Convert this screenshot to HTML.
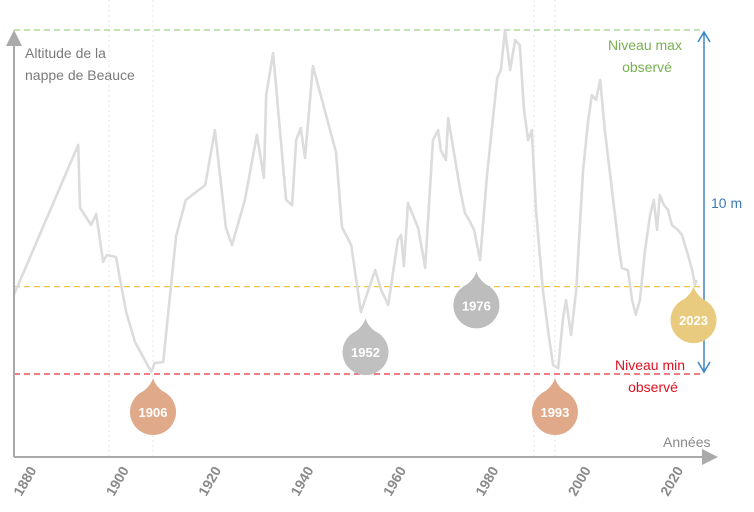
<!DOCTYPE html>
<html><head><meta charset="utf-8"><style>
body{margin:0;background:#fff}
svg{display:block;font-family:"Liberation Sans",sans-serif}
</style></head><body>
<svg id="chart" width="754" height="512" viewBox="0 0 754 512">
<defs>
<marker id="ah" markerWidth="10" markerHeight="10" refX="5" refY="5" orient="auto"><path d="M0,1 L8,5 L0,9 z" fill="#aaa"/></marker>
</defs>
<g id="grid"></g>
<g id="lines"></g>
<path id="series" fill="none" stroke="#dcdcdc" stroke-width="2.6" stroke-linejoin="round"/>
<g id="axes"></g>
<g id="markers"></g>
</svg>
<script>
const years=[1875.9,1889.8,1890.2,1892.6,1893.7,1895.2,1896,1898,1898.9,1900.2,1902.1,1905.6,1906.4,1908.2,1911,1913.1,1917.3,1919.4,1921.8,1923.1,1925.9,1928.5,1930,1930.5,1932,1934.8,1936.1,1937,1938,1938.9,1940.6,1945.6,1946.9,1948.9,1951,1954.1,1955.4,1956.9,1959,1959.7,1960.3,1961.2,1963.4,1964.7,1964.9,1966.6,1967.7,1968.3,1969.4,1969.9,1972.5,1973.5,1974.4,1975.5,1976.8,1978.3,1980.5,1981.3,1982.2,1983.3,1984.4,1985.4,1986.3,1987.2,1988,1988.9,1990.4,1991.5,1992.6,1993.7,1994.7,1995.4,1996.5,1997.6,1999.1,2000.2,2001,2001.9,2002.8,2003.8,2005.1,2006,2006.9,2007.5,2008.8,2009.7,2010.5,2011.4,2012.5,2013.6,2014.4,2015.1,2015.7,2016.6,2017.5,2018.3,2019.6,2020.5,2021.8,2022.7,2023.3,2023.7];
const levels=[2.30,6.66,4.83,4.33,4.65,3.26,3.46,3.40,2.73,1.80,0.93,0.06,0.32,0.35,4.01,5.06,5.49,7.09,4.24,3.75,5.06,6.95,5.70,8.11,9.33,5.06,4.91,6.80,7.15,6.28,8.95,6.45,4.27,3.75,1.80,3.02,2.44,2.01,3.90,4.04,3.14,4.97,4.24,3.26,3.08,6.80,7.09,6.51,6.22,7.44,5.35,4.68,4.48,4.19,3.31,5.78,8.60,8.84,10.0,8.84,9.71,9.56,7.67,6.80,7.09,4.77,2.44,1.28,0.26,0.17,1.57,2.15,1.13,2.44,5.93,7.38,8.11,7.97,8.55,7.09,5.64,4.62,3.60,3.08,3.02,2.15,1.72,2.15,3.60,4.62,5.06,4.19,5.20,4.91,4.77,4.33,4.19,4.04,3.46,3.02,2.59,2.73];
const tickYears=[1880,1900,1920,1940,1960,1980,2000,2020];
const eventYears=[1906,1952,1976,1993,2023];
const eventLevels=[0,1.74,3.1,0,2.67];
const refLevels=[10,2.54,0];
const NS="http://www.w3.org/2000/svg";
const X=y=>153+(y-1906)*4.62;
const Y=v=>374-v*34.4;
function mk(t,a,p){const e=document.createElementNS(NS,t);for(const k in a)e.setAttribute(k,a[k]);(p||document.getElementById('chart')).appendChild(e);return e;}
[1896.5,1906,1988.5,1993].forEach(y=>{const l=mk('line',{x1:X(y),x2:X(y),y1:0,y2:457,stroke:'#e6e6e6','stroke-dasharray':'2,3'},document.getElementById('grid'));

});
document.getElementById('series').setAttribute('d',years.map((y,i)=>(i?'L':'M')+X(y).toFixed(1)+','+Y(levels[i]).toFixed(1)).join(''));
const refCol=['#9fd08a','#f0c64a','#e0303a'];
const refNames=['max-level-line','current-level-line','min-level-line'];
refLevels.forEach((v,i)=>{const l=mk('line',{x1:14,x2:704,y1:Y(v),y2:Y(v),stroke:refCol[i],'stroke-width':1.3,'stroke-dasharray':'6,4'},document.getElementById('lines'));

});
const evCol=['#e0a98a','#c0c0c0','#bdbdbd','#e0a98a','#e8cb7e'];
const g=document.getElementById('markers');
eventYears.forEach((yr,i)=>{
 const cx=X(yr), tip=Y(eventLevels[i])+4, cy=tip+34;
 const grp=mk('g',{},g);
 
 
 mk('path',{d:`M${cx},${tip} C${cx+2},${tip+8} ${cx+10},${cy-20} ${cx+14},${cy-18} L${cx-14},${cy-18} C${cx-10},${cy-20} ${cx-2},${tip+8} ${cx},${tip}z`,fill:evCol[i]},grp);
 mk('circle',{cx:cx,cy:cy,r:23,fill:evCol[i]},grp);
 const t=mk('text',{x:cx,y:cy+5,'text-anchor':'middle',fill:'#fff','font-size':13,'font-weight':'bold'},grp);t.textContent=yr;
});
const a=document.getElementById('axes');
const xa=mk('line',{x1:14,y1:457,x2:712,y2:457,stroke:'#aaa','stroke-width':2,'marker-end':'url(#ah)'},a);


const ya=mk('line',{x1:14,y1:457,x2:14,y2:36,stroke:'#aaa','stroke-width':2,'marker-end':'url(#ah)'},a);


tickYears.forEach(yr=>{const x=X(yr)+4;const t=mk('text',{x:x,y:470,'text-anchor':'end',fill:'#8a8a8a','font-size':14,'font-weight':'bold',transform:`rotate(-60 ${x} 470)`},a);t.textContent=yr;

});
const ba=mk('path',{d:`M704,${Y(10)+2} L704,${Y(0)-2} M698,${Y(10)+12} L704,${Y(10)+2} L710,${Y(10)+12} M698,${Y(0)-12} L704,${Y(0)-2} L710,${Y(0)-12}`,stroke:'#3d85c6','stroke-width':1.5,fill:'none'},a);


function txt(s,x,y,c,anchor,name){const t=mk('text',{x:x,y:y,fill:c,'font-size':14,'text-anchor':anchor},a);t.textContent=s;

}
txt('Altitude de la',25,58,'#7a7a7a','start','y-axis-title');
txt('nappe de Beauce',25,80,'#7a7a7a','start','y-axis-title-2');
txt('Années',663,447,'#8a8a8a','start','x-axis-title');
txt('Niveau max',645,50,'#78b050','middle','max-label');
txt('observé',647,72,'#78b050','middle','max-label-2');
txt('Niveau min',650,370,'#e01020','middle','min-label');
txt('observé',653,392,'#e01020','middle','min-label-2');
txt('10 m',711,208,'#3d7ab8','start','range-label');
</script>
</body></html>
